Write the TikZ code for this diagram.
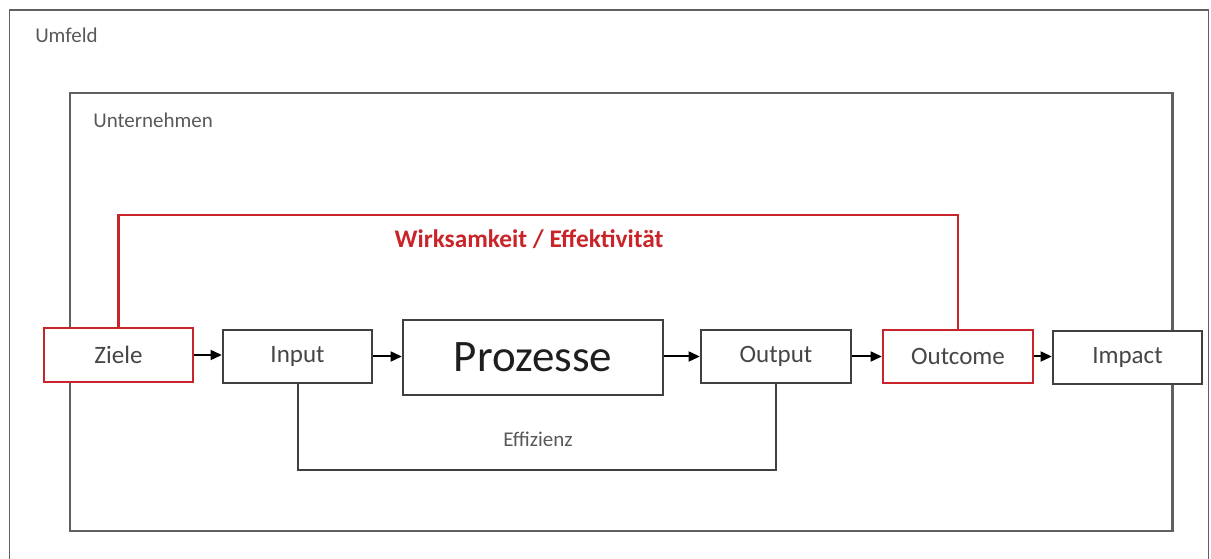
\documentclass[tikz,border=0pt]{standalone}
\usepackage{fontspec}
\setmainfont{Carlito}
\usetikzlibrary{arrows.meta}
\definecolor{boxline}{RGB}{64,64,64}
\definecolor{frameline}{RGB}{96,96,96}
\definecolor{txtgray}{RGB}{70,70,70}
\definecolor{lblgray}{RGB}{89,89,89}
\definecolor{redline}{RGB}{200,36,42}
\tikzset{
  blk/.style={draw=boxline, line width=1.7pt, fill=white, inner sep=0pt,
    text=txtgray, font=\fontsize{18.75}{20}\selectfont},
  redblk/.style={blk, draw=redline},
  frame/.style={draw=frameline, line width=1.7pt},
  outerframe/.style={draw=frameline, line width=1.2pt},
  arr/.style={draw=black, line width=1.5pt, -{Triangle[length=8.5pt,width=7.5pt]}},
  conn/.style={draw=boxline, line width=1.5pt},
  redconn/.style={draw=redline, line width=1.8pt},
  small/.style={text=lblgray, font=\fontsize{15.75}{17}\selectfont, inner sep=0pt}
}
\begin{document}
\begin{tikzpicture}[x=0.75pt,y=-0.75pt]
\useasboundingbox (0,0) rectangle (1211,559);
% frames
\draw[outerframe] (9.5,559) -- (9.5,10) -- (1208.5,10) -- (1208.5,559);
\draw[frame] (70,93) rectangle (1172.5,531);
\node[small, anchor=base west] (umfeld) at (35,43) {Umfeld};
\node[small, anchor=base west] (untern) at (93,128) {Unternehmen};
% helper coordinates
\coordinate (redtop) at (0,215);
\coordinate (effbot) at (0,470);
% boxes
\node[redblk, minimum width=111.75pt, minimum height=40.5pt] (ziele) at (118.5,355) {Ziele};
\node[blk, minimum width=111.75pt, minimum height=39.75pt] (input) at (297.5,356.5) {Input};
\node[blk, minimum width=195pt, minimum height=56.25pt, text={rgb,255:red,30;green,30;blue,30},
  font=\fontsize{33.75}{36}\selectfont] (proz) at (533,357.5) {Prozesse};
\node[blk, minimum width=112.5pt, minimum height=39.75pt] (output) at (776,356.5) {Output};
\node[redblk, minimum width=112.5pt, minimum height=39.75pt] (outcome) at (958,356.5) {Outcome};
\node[blk, minimum width=111.75pt, minimum height=39.75pt] (impact) at (1127.5,357.5) {Impact};
% red effectiveness loop
\draw[redconn] (ziele.north) -- (ziele.north |- redtop) -| (outcome.north);
\node[anchor=base, inner sep=0pt, text=redline, font=\bfseries\fontsize{19}{21}\selectfont] (wirk) at (529,248) {Wirksamkeit / Effektivität};
% efficiency bracket
\draw[conn] (input.south) -- (input.south |- effbot) -| (output.south);
\node[small, anchor=base] (eff) at (538,447) {Effizienz};
% arrows
\draw[arr] (ziele.east) -- (ziele.east -| input.west);
\draw[arr] (input.east) -- (input.east -| proz.west);
\draw[arr] (proz.east |- output.west) -- (output.west);
\draw[arr] (output.east) -- (output.east -| outcome.west);
\draw[arr] (outcome.east) -- (outcome.east -| impact.west);
\end{tikzpicture}
\end{document}
